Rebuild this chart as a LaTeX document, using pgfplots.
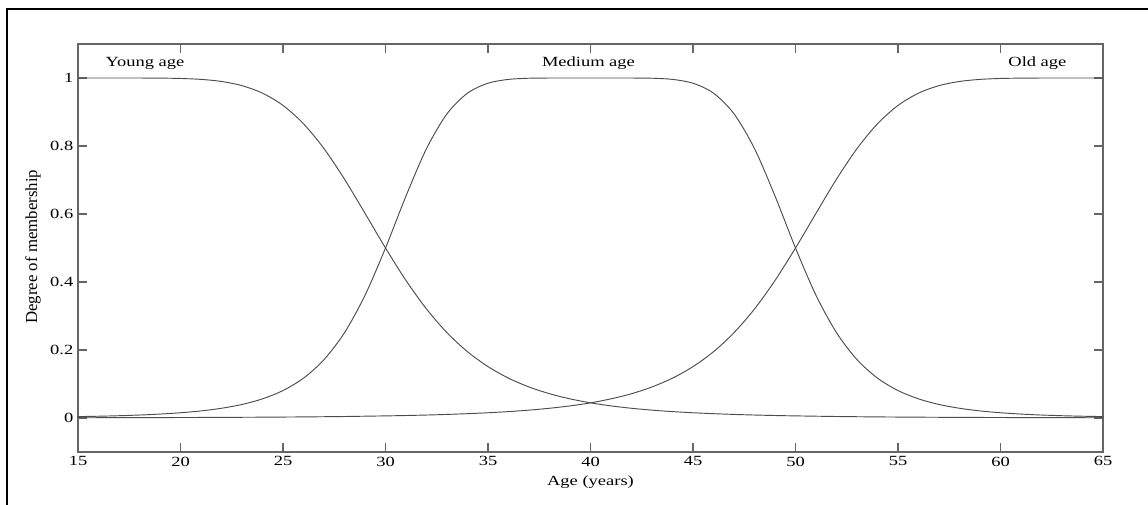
\documentclass[border=0pt]{standalone}
\usepackage{fontspec}
\setmainfont{Liberation Serif}[FakeStretch=1.32]
\newfontfamily\ylabfont{Liberation Serif}
\usepackage{pgfplots}
\pgfplotsset{compat=1.18}
\pgfplotstableread{
x y
15 1.0000
16 1.0000
17 1.0000
18 0.9999
19 0.9996
20 0.9986
21 0.9959
22 0.9898
23 0.9775
24 0.9554
25 0.9193
26 0.8654
27 0.7923
28 0.7024
29 0.6020
30 0.5000
31 0.4044
32 0.3206
33 0.2509
34 0.1949
35 0.1511
36 0.1172
37 0.0913
38 0.0714
39 0.0563
40 0.0445
41 0.0356
42 0.0286
43 0.0231
44 0.0188
45 0.0154
46 0.0127
47 0.0105
48 0.0087
49 0.0073
50 0.0062
52 0.0044
54 0.0032
56 0.0024
58 0.0018
60 0.0014
62 0.0011
65 0.0007
}\young
\pgfplotstableread{
x y
15 0.0041
16 0.0052
17 0.0067
18 0.0087
19 0.0115
20 0.0154
21 0.0208
22 0.0286
23 0.0398
24 0.0563
25 0.0807
26 0.1172
27 0.1716
28 0.2509
29 0.3608
30 0.5000
31 0.6530
32 0.7923
33 0.8947
34 0.9554
35 0.9846
36 0.9959
37 0.9993
38 0.9999
39 1.0000
40 1.0000
41 1.0000
42 0.9999
43 0.9993
44 0.9959
45 0.9846
46 0.9554
47 0.8947
48 0.7923
49 0.6530
50 0.5000
51 0.3608
52 0.2509
53 0.1716
54 0.1172
55 0.0807
56 0.0563
57 0.0398
58 0.0286
59 0.0208
60 0.0154
61 0.0115
62 0.0087
63 0.0067
64 0.0052
65 0.0041
}\medium
\pgfplotstableread{
x y
15 0.0007
18 0.0011
20 0.0014
22 0.0018
24 0.0024
26 0.0032
28 0.0044
30 0.0062
31 0.0073
32 0.0087
33 0.0105
34 0.0127
35 0.0154
36 0.0188
37 0.0231
38 0.0286
39 0.0356
40 0.0445
41 0.0563
42 0.0714
43 0.0913
44 0.1172
45 0.1511
46 0.1949
47 0.2509
48 0.3206
49 0.4044
50 0.5000
51 0.6020
52 0.7024
53 0.7923
54 0.8654
55 0.9193
56 0.9554
57 0.9775
58 0.9898
59 0.9959
60 0.9986
61 0.9996
62 0.9999
63 1.0000
64 1.0000
65 1.0000
}\old
\begin{document}
\begin{tikzpicture}[x=1pt,y=1pt]
\useasboundingbox (0,0) rectangle (861,378.75);
\fill[white] (0,0) rectangle (861,378.75);
\draw[line width=1.6pt] (5.25,0) -- (5.25,372) -- (861,372);
\begin{axis}[
  at={(58.5pt,39.75pt)}, anchor=south west,
  scale only axis, width=768.75pt, height=306pt,
  xmin=15, xmax=65, ymin=-0.1, ymax=1.1,
  xtick={15,20,25,30,35,40,45,50,55,60,65},
  ytick={0,0.2,0.4,0.6,0.8,1},
  tick align=inside,
  major tick length=7pt,
  axis line style={black!60, line width=0.8pt},
  every tick/.style={black!60, line width=0.8pt},
  /pgf/number format/assume math mode=true,
  tick label style={font=\fontsize{10.5}{12}\selectfont, black},
  xlabel={Age (years)},
  ylabel={Degree of membership},
  xlabel style={font=\fontsize{10.5}{12}\selectfont, at={(axis description cs:0.5,-0.0735)}, anchor=center},
  ylabel style={font=\ylabfont\fontsize{12.6}{14}\selectfont, at={(axis description cs:-0.0439,0.503)}, anchor=center},
  clip=false,
]
\addplot[black!70, line width=0.7pt, smooth, tension=0.5] table {\young};
\addplot[black!70, line width=0.7pt, smooth, tension=0.5] table {\medium};
\addplot[black!70, line width=0.7pt, smooth, tension=0.5] table {\old};
\node[font=\fontsize{10.5}{12}\selectfont, anchor=center] at (axis cs:18.27,1.044) {Young age};
\node[font=\fontsize{10.5}{12}\selectfont, anchor=center] at (axis cs:39.9,1.044) {Medium age};
\node[font=\fontsize{10.5}{12}\selectfont, anchor=center] at (axis cs:61.8,1.044) {Old age};
\end{axis}
\end{tikzpicture}
\end{document}
